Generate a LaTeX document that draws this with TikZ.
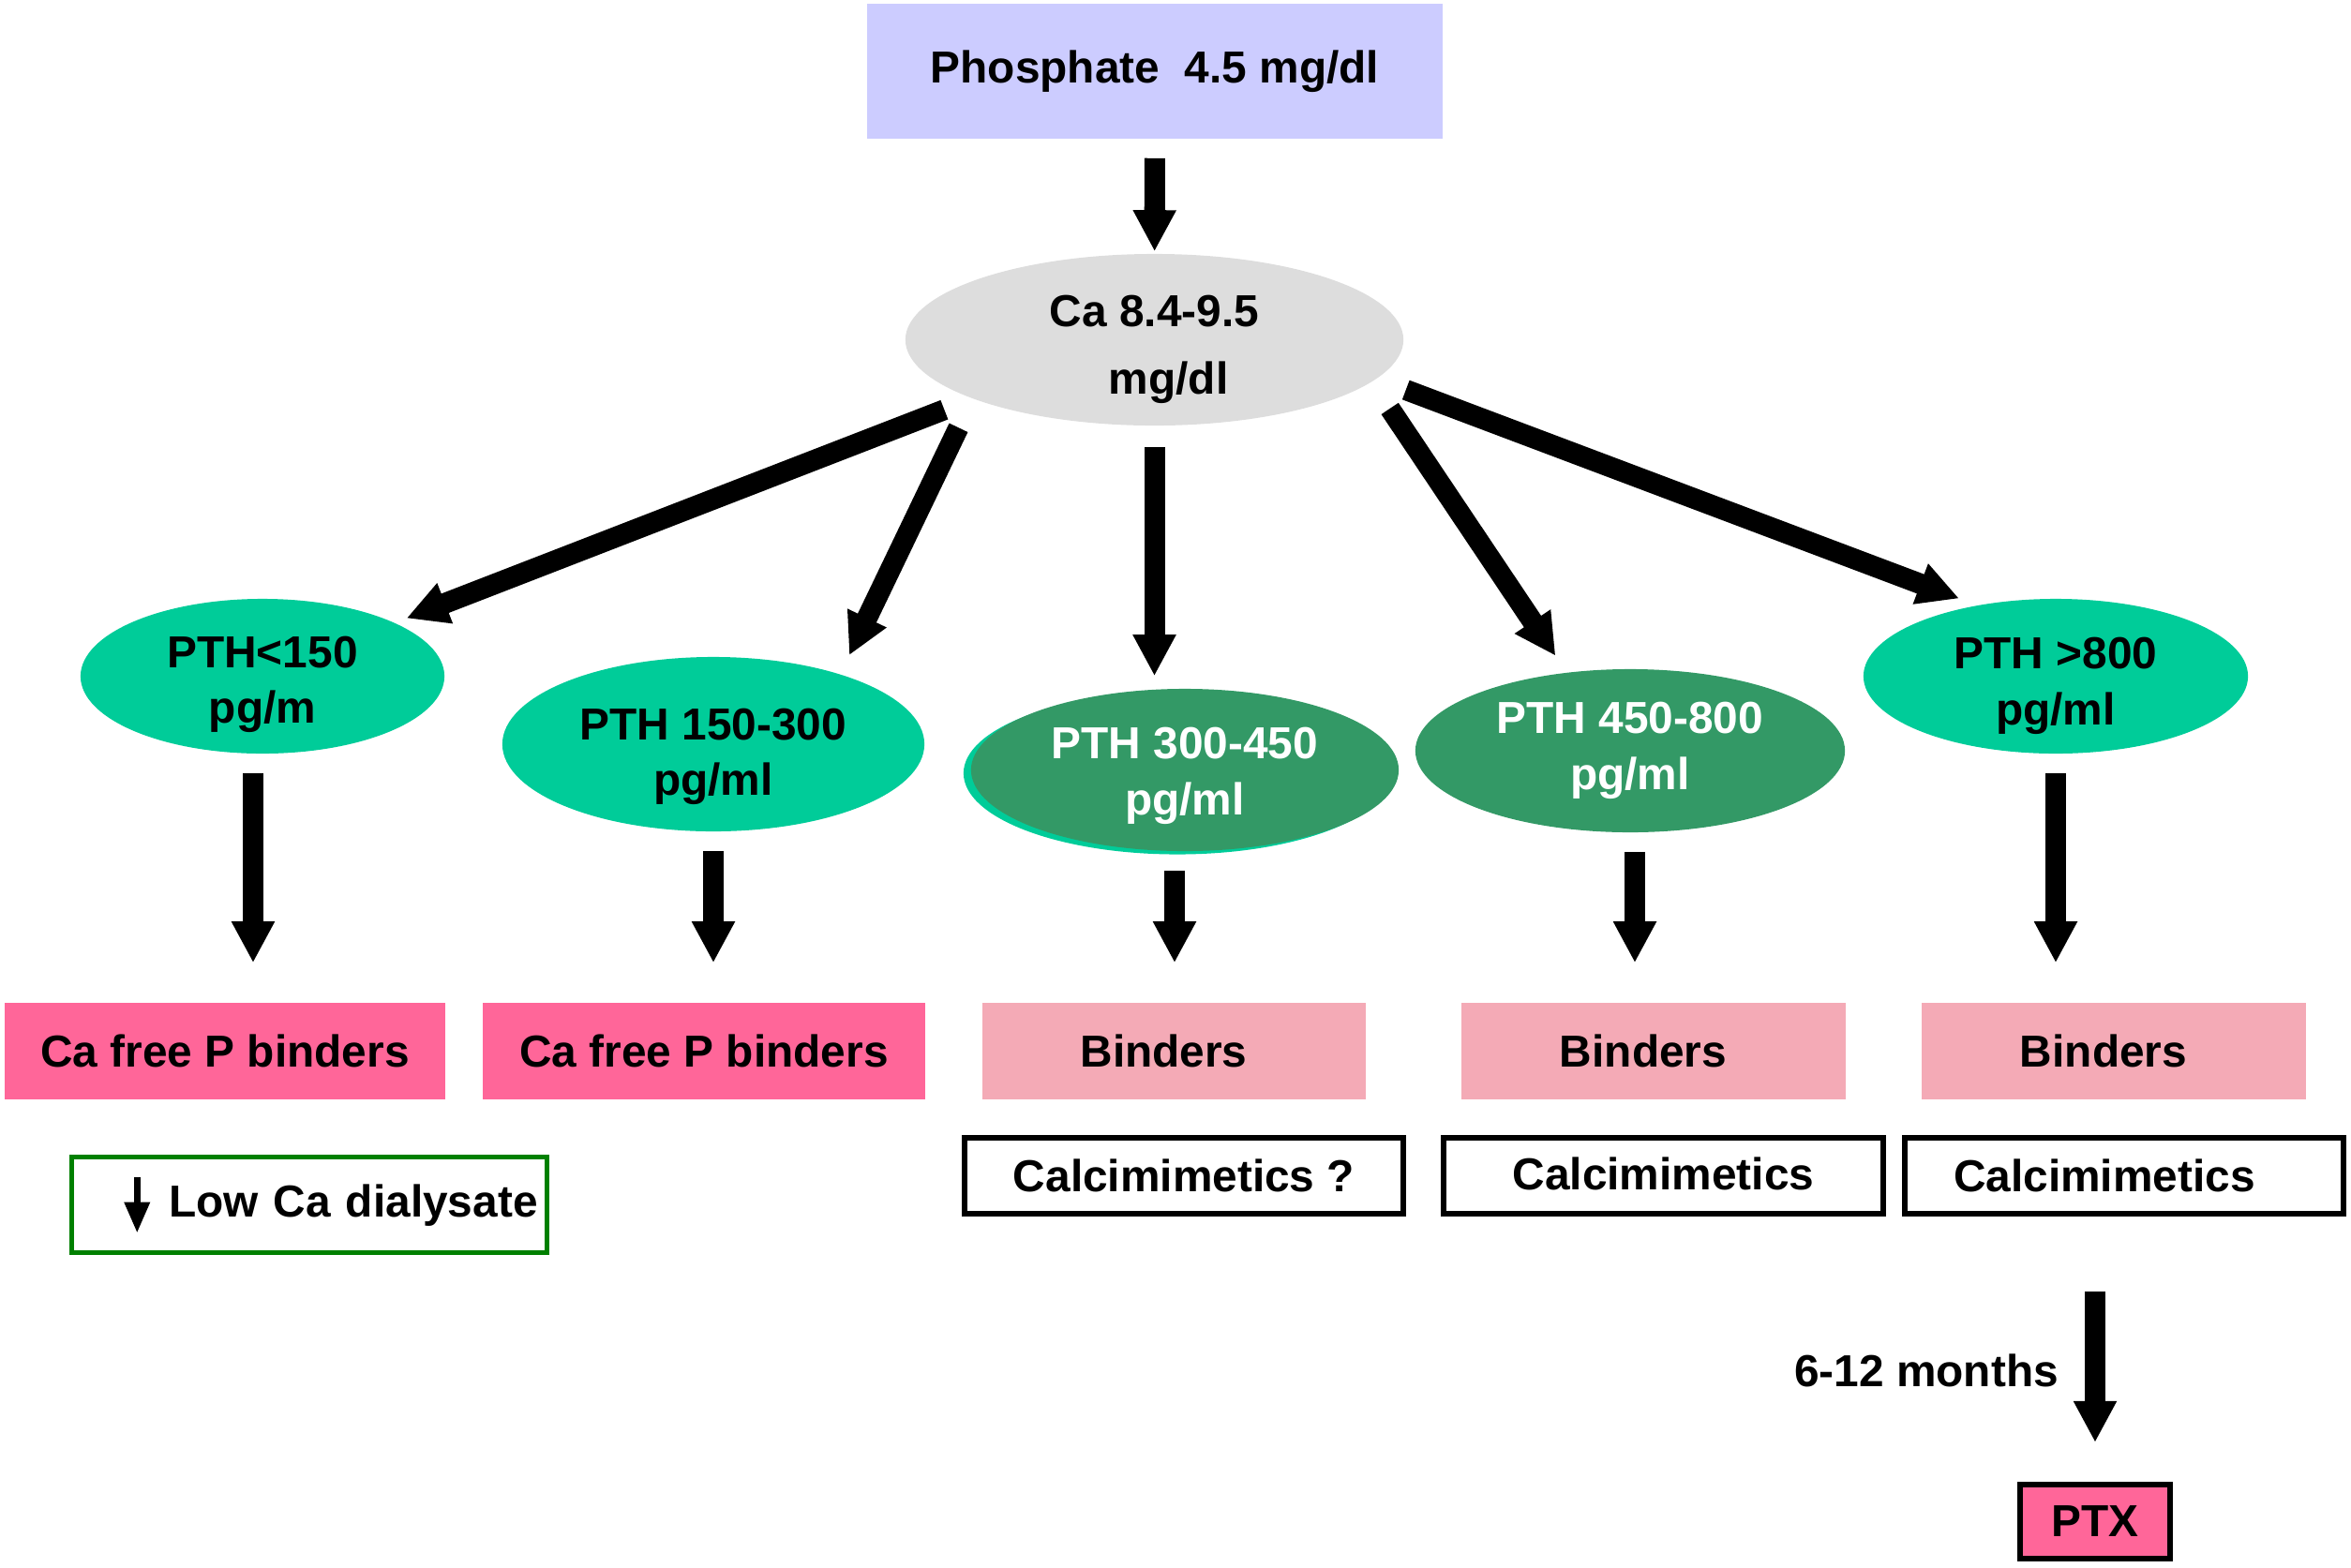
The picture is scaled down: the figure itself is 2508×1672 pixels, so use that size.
\documentclass[tikz,border=0pt]{standalone}
\usepackage{fontspec}
\setmainfont{Liberation Sans}
\usetikzlibrary{shapes.geometric, arrows.meta}

\definecolor{lavender}{HTML}{CCCCFF}
\definecolor{cagray}{HTML}{DDDDDD}
\definecolor{lite}{HTML}{00CC99}
\definecolor{deep}{HTML}{339966}
\definecolor{hotpink}{HTML}{FF6699}
\definecolor{palepink}{HTML}{F4AAB6}
\definecolor{edgegreen}{HTML}{008000}

\newcommand\padtop[1]{\rule{0pt}{#1}}

\begin{document}
\begin{tikzpicture}[
		x=0.01cm, y=-0.01cm
		,every node/.style={font=\bfseries\fontsize{13.6}{17}\selectfont, inner sep=0pt, align=center}
		,rect/.style={rectangle, minimum height=1.03cm}
		,blob/.style={ellipse, inner ysep=-0.4cm}
		,oval/.style={blob, fill=lite}
		,deepoval/.style={blob, fill=deep, text=white}
		,hot/.style={rect, fill=hotpink}
		,pale/.style={rect, fill=palepink, minimum width=4.09cm, execute at end node=\hspace*{0.22cm}}
		,outline/.style={rectangle, draw, line width=0.06cm, minimum width=4.68cm, minimum height=0.81cm}
		,flow/.style={line width=0.22cm, -{Triangle[width=0.43cm, length=0.44cm]}}
		,drop/.style={flow, shorten <=0.2cm, shorten >=0.42cm}
	]
		\useasboundingbox (0,0) rectangle (2508,1672);

		\node[rect, fill=lavender, minimum width=6.14cm, minimum height=1.44cm] (ph) at (1232,76) {Phosphate\ \ 4.5 mg/dl};
		\node[blob, fill=cagray, minimum width=5.31cm, minimum height=1.83cm, font=\bfseries\fontsize{13.6}{20.5}\selectfont] (ca) at (1231.5,362.5) {\padtop{15.6pt}Ca 8.4-9.5\\\hspace*{0.3cm}mg/dl};

		\node[oval, minimum width=3.88cm, minimum height=1.65cm] (pa) at (280,721.5) {\padtop{14.5pt}PTH<150\\pg/m};
		\node[oval, minimum width=4.50cm, minimum height=1.86cm] (pb) at (761,794) {\padtop{17.1pt}PTH 150-300\\pg/ml};
		\node[deepoval, minimum width=4.56cm, minimum height=1.73cm, preaction={fill=lite, transform canvas={shift={(-0.08cm,-0.035cm)}}}] (pc) at (1264,821.5) {\padtop{13.1pt}PTH 300-450\\pg/ml};
		\node[deepoval, minimum width=4.58cm, minimum height=1.74cm] (pd) at (1739,801) {PTH 450-800\\pg/ml};
		\node[oval, minimum width=4.10cm, minimum height=1.65cm] (pe) at (2193,721.5) {\padtop{15.3pt}PTH >800\\pg/ml};

		\node[hot, minimum width=4.70cm] (ba) at (240,1121.5) {Ca free P binders};
		\node[hot, minimum width=4.71cm] (bb) at (751,1121.5) {Ca free P binders};
		\node[pale] (bc) at (1252.5,1121.5) {Binders};
		\node[pale] (bd) at (1764,1121.5) {Binders};
		\node[pale] (be) at (2255,1121.5) {Binders};

		\node[rectangle, draw=edgegreen, line width=0.045cm, minimum width=5.07cm, minimum height=1.02cm, text width=4.87cm, align=right] (lowca) at (330,1285.5) {\tikz[baseline=0pt]\draw[line width=0.07cm, -{Triangle[width=0.26cm, length=0.33cm]}] (0pt,0.43cm) -- (0pt,-0.17cm);\hspace{0.21cm}Low Ca dialysate};

		\node[outline] (cc) at (1263,1254.5) {Calcimimetics ?};
		\node[outline] (cd) at (1774.5,1254.5) {\raisebox{0.05cm}{Calcimimetics}};
		\node[outline, execute at end node=\hspace*{0.42cm}] (ce) at (2266,1254.5) {Calcimimetics};

		\node[rectangle, draw, line width=0.06cm, fill=hotpink, minimum width=1.60cm, minimum height=0.79cm] (ptx) at (2235,1623.5) {PTX};

		\draw[flow, shorten <=0.2cm, shorten >=0.02cm] (ph) -- (ca);
		\draw[flow, shorten <=0.32cm, shorten >=0.13cm] (ca.198) -- (pa.22);
		\draw[flow, shorten <=0.34cm, shorten >=0.22cm] (ca.198) -- (pb.29);
		\draw[flow, shorten <=0.22cm, shorten >=0.13cm] (ca.south) -- (ca.south |- pc.north);
		\draw[flow, shorten <=0.34cm, shorten >=0.21cm] (ca.349) -- (pd.129);
		\draw[flow, shorten <=0.33cm, shorten >=0.20cm] (ca.350) -- (pe.138);

		\draw[drop] ([xshift=-0.1cm]pa.south) -- ([xshift=-0.1cm]pa.south |- ba.north);
		\draw[drop] (pb.south) -- (pb.south |- bb.north);
		\draw[drop] ([xshift=-0.11cm]pc.south) -- ([xshift=-0.11cm]pc.south |- bc.north);
		\draw[drop] ([xshift=0.05cm]pd.south) -- ([xshift=0.05cm]pd.south |- bd.north);
		\draw[drop] (pe.south) -- (pe.south |- be.north);

		\draw[flow, shorten <=0.8cm, shorten >=0.42cm] (ce.south -| ptx.north) -- (ptx.north) node[pos=0.58, left=0.28cm] {6-12 months};
	\end{tikzpicture}
\end{document}
